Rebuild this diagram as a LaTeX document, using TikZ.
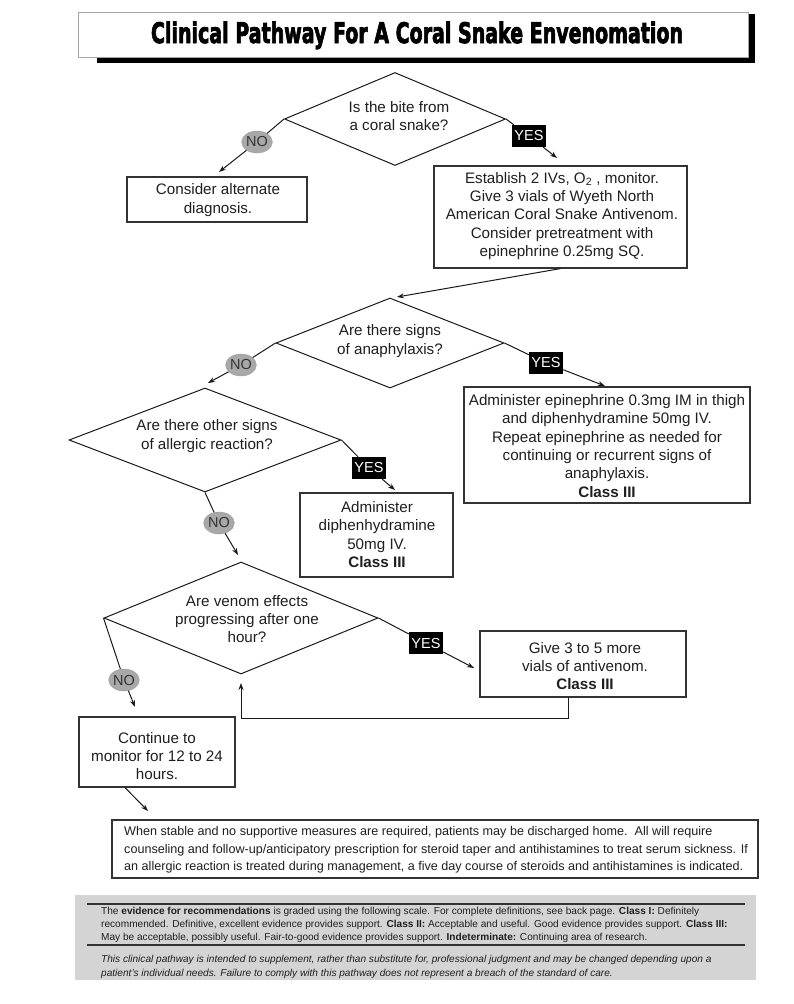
\documentclass[tikz,border=0pt]{standalone}
\usepackage{fontspec}
\usepackage{graphicx}
\setmainfont{Liberation Sans}
\newfontfamily\titlefont{DejaVu Sans}[BoldFeatures={FakeBold=3}]
\usetikzlibrary{shapes.geometric,arrows.meta,calc}
\definecolor{ln}{HTML}{1A1A1A}
\definecolor{bx}{HTML}{333333}
\definecolor{nofill}{HTML}{A8A8A8}
\definecolor{foot}{HTML}{D4D4D4}
\begin{document}
\begin{tikzpicture}[x=1pt,y=-1pt,
  box/.style={draw=bx, line width=1.2pt, fill=white, inner sep=0},
  dia/.style={draw=ln, diamond, line width=1pt, inner sep=0},
  txt/.style={align=center, font=\fontsize{15.2}{18.3}\selectfont, text=black!88, inner sep=0},
  nolab/.style={ellipse, fill=nofill, draw=gray!75, minimum width=30pt, minimum height=22pt, inner sep=0, font=\fontsize{14.5}{14.5}\selectfont, text=black!80},
  yeslab/.style={fill=black, text=white, minimum width=34pt, minimum height=22pt, inner sep=0, font=\fontsize{14.5}{14.5}\selectfont},
  con/.style={line width=1pt, draw=ln},
  arr/.style={con, -{Stealth[length=7pt,width=5pt]}}]
\useasboundingbox (0,0) rectangle (793,1004);
\fill[white] (0,0) rectangle (793,1004);
% title
\fill[black] (97,14) rectangle (755,63);
\node[draw=gray!70, line width=0.8pt, fill=white, minimum width=670pt, minimum height=45pt, inner sep=0] (tbox) at (413,34.5) {};
\node[anchor=base, inner sep=0] (title) at (417,43) {\resizebox{532pt}{21.5pt}{\titlefont\bfseries Clinical Pathway For A Coral Snake Envenomation}};
% diamonds
\node[dia, minimum width=221pt, minimum height=93pt] (d1) at (395,119) {};
\node[dia, minimum width=228pt, minimum height=90pt] (d2) at (390,343) {};
\node[dia, minimum width=272pt, minimum height=104pt] (d3) at (205,440) {};
\node[dia, minimum width=274pt, minimum height=112pt] (d4) at (241,618) {};
\node[txt] (q1) at (399,116) {Is the bite from\\a coral snake?};
\node[txt] (q2) at (390,341) {Are there signs\\of anaphylaxis?};
\node[txt] (q3) at (207,436) {Are there other signs\\of allergic reaction?};
\node[txt] (q4) at (247,619) {Are venom effects\\progressing after one\\hour?};
% boxes
\node[box, minimum width=180pt, minimum height=45pt] (alt) at (217,199.5) {};
\node[txt] (altt) at (218,200) {Consider alternate\\diagnosis.};
\node[box, minimum width=253pt, minimum height=102pt] (est) at (560.5,217) {};
\node[txt] (estt) at (562,216) {Establish 2 IVs, O\textsubscript{2} , monitor.\\Give 3 vials of Wyeth North\\American Coral Snake Antivenom.\\Consider pretreatment with\\epinephrine 0.25mg SQ.};
\node[box, minimum width=286pt, minimum height=116pt] (ana) at (607,445) {};
\node[txt] (anat) at (607,446) {Administer epinephrine 0.3mg IM in thigh\\and diphenhydramine 50mg IV.\\Repeat epinephrine as needed for\\continuing or recurrent signs of\\anaphylaxis.\\\textbf{Class III}};
\node[box, minimum width=153pt, minimum height=84pt] (dip) at (376.5,535) {};
\node[txt] (dipt) at (377,534.5) {Administer\\diphenhydramine\\50mg IV.\\\textbf{Class III}};
\node[box, minimum width=206pt, minimum height=66pt] (give) at (583,664) {};
\node[txt] (givet) at (585,666) {Give 3 to 5 more\\vials of antivenom.\\\textbf{Class III}};
\node[box, minimum width=156pt, minimum height=70pt] (cont) at (157,752) {};
\node[txt] (contt) at (157,756) {Continue to\\monitor for 12 to 24\\hours.};
\node[box, minimum width=646pt, minimum height=58pt] (note) at (435,849) {};
\node[anchor=west, align=left, inner sep=0, font=\fontsize{12.6}{17.5}\selectfont, text=black!88] (notet) at (124,850) {When stable and no supportive measures are required, patients may be discharged home.\ \ All will require\\counseling and follow-up/anticipatory prescription for steroid taper and antihistamines to treat serum sickness. If\\an allergic reaction is treated during management, a five day course of steroids and antihistamines is indicated.};
% labels
\node[nolab] (no1) at (257,142) {NO};
\node[yeslab] (yes1) at (529,136) {YES};
\node[nolab] (no2) at (241,365) {NO};
\node[yeslab] (yes2) at (546,363) {YES};
\node[yeslab] (yes3) at (369,468) {YES};
\node[nolab] (no3) at (219,523) {NO};
\node[yeslab] (yes4) at (426,643) {YES};
\node[nolab] (no4) at (124,680) {NO};
% tips
\coordinate (t1) at (219,172);
\coordinate (t2) at (557,158);
\coordinate (t3) at (397,297);
\coordinate (t4) at (208,383);
\coordinate (t5) at (605,386);
\coordinate (t6) at (395,490);
\coordinate (t7) at (238,555);
\coordinate (t8) at (474,668);
\coordinate (t9) at (135,707);
\coordinate (fb) at (568,718);
\coordinate (fbtip) at (241,683);
\coordinate (t10) at (148,811);
% connectors
\draw[con] (d1.west) -- (no1); \draw[arr] (no1) -- (t1);
\draw[con] (d1.east) -- (yes1); \draw[arr] (yes1) -- (t2);
\draw[arr] (est.south) -- (t3);
\draw[con] (d2.west) -- (no2); \draw[arr] (no2) -- (t4);
\draw[con] (d2.east) -- (yes2); \draw[arr] (yes2) -- (t5);
\draw[con] (d3.east) -- (yes3); \draw[arr] (yes3) -- (t6);
\draw[con] (d3.south) -- (no3); \draw[arr] (no3) -- (t7);
\draw[con] (d4.east) -- (yes4); \draw[arr] (yes4) -- (t8);
\draw[con] (d4.west) -- (no4); \draw[arr] (no4) -- (t9);
\draw[arr] (give.south -| fb) -- (fb) -| (fbtip);
\draw[arr] ([xshift=-32pt]cont.south) -- (t10);
% footer
\fill[foot] (75,895) rectangle (756,980);
\draw[line width=1.3pt, black!80] (87,904) -- (745,904);
\draw[line width=1.3pt, black!80] (87,945) -- (745,945);
\node[anchor=west, align=left, inner sep=0, font=\fontsize{10.1}{13}\selectfont, text=black!88] (evid) at (101,925) {The \textbf{evidence for recommendations} is graded using the following scale. For complete definitions, see back page. \textbf{Class I:} Definitely\\recommended. Definitive, excellent evidence provides support. \textbf{Class II:} Acceptable and useful. Good evidence provides support. \textbf{Class III:}\\May be acceptable, possibly useful. Fair-to-good evidence provides support. \textbf{Indeterminate:} Continuing area of research.};
\node[anchor=west, align=left, inner sep=0, font=\fontsize{10.1}{13.5}\selectfont\itshape, text=black!88] (disc) at (101,967) {This clinical pathway is intended to supplement, rather than substitute for, professional judgment and may be changed depending upon a\\patient's individual needs. Failure to comply with this pathway does not represent a breach of the standard of care.};
\end{tikzpicture}
\end{document}
